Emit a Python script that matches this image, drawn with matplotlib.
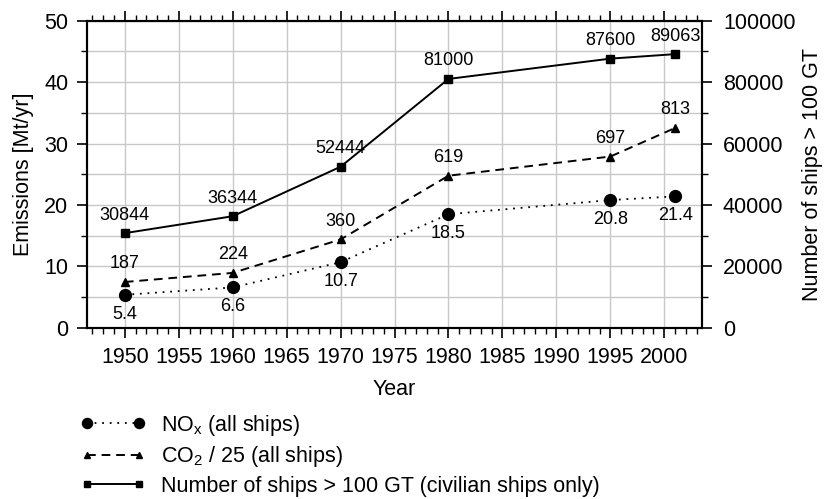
import matplotlib
matplotlib.use("Agg")
import matplotlib.pyplot as plt
from matplotlib.ticker import MultipleLocator

plt.rcParams.update({
    "font.family": ["Liberation Sans", "DejaVu Sans"],
    "mathtext.fontset": "custom",
    "mathtext.rm": "Liberation Sans",
    "mathtext.it": "Liberation Sans:italic",
    "font.size": 15.5,
})

# ── Data ───────────────────────────────────────────────────────────────────────
years = [1950, 1960, 1970, 1980, 1995, 2001]
nox = [5.4, 6.6, 10.7, 18.5, 20.8, 21.4]          # Mt/yr
co2 = [187, 224, 360, 619, 697, 813]               # Mt/yr (plotted / 25)
ships = [30844, 36344, 52444, 81000, 87600, 89063]  # number of ships > 100 GT

nox_labels = ["5.4", "6.6", "10.7", "18.5", "20.8", "21.4"]
co2_labels = [str(v) for v in co2]
ship_labels = [str(v) for v in ships]

GRID = "#c8c8c8"
FS = 15.5
LAB_FS = 13

fig = plt.figure(figsize=(8.24, 4.99), dpi=100)
ax = fig.add_axes([0.1056, 0.3427, 0.7464, 0.6162])
ax2 = ax.twinx()

# grid
ax.xaxis.set_major_locator(MultipleLocator(5))
ax.xaxis.set_minor_locator(MultipleLocator(1))
ax.yaxis.set_major_locator(MultipleLocator(10))
ax.yaxis.set_minor_locator(MultipleLocator(5))
ax.grid(True, which="major", axis="x", color=GRID, linewidth=1.0)
ax.grid(True, which="both", axis="y", color=GRID, linewidth=1.0)
ax.set_axisbelow(True)

# emissions on left axis
l_nox, = ax.plot(years, nox, color="black", linestyle=(0, (1, 3.2)), linewidth=1.3,
                 marker="o", markersize=8.5, zorder=3)
co2_scaled = [v / 25 for v in co2]
l_co2, = ax.plot(years, co2_scaled, color="black", linestyle=(0, (4.5, 3)), linewidth=1.4,
                 marker="^", markersize=5.5, zorder=3)

# ships on right axis
l_sh, = ax2.plot(years, ships, color="black", linestyle="-", linewidth=1.4,
                 marker="s", markersize=5.5, zorder=3)

for x, y, t in zip(years, nox, nox_labels):
    ax.annotate(t, (x, y), xytext=(0, -14), textcoords="offset points",
                ha="center", va="center", fontsize=LAB_FS)
for x, y, t in zip(years, co2_scaled, co2_labels):
    ax.annotate(t, (x, y), xytext=(0, 13), textcoords="offset points",
                ha="center", va="center", fontsize=LAB_FS)
for x, y, t in zip(years, ships, ship_labels):
    ax2.annotate(t, (x, y), xytext=(0, 13), textcoords="offset points",
                 ha="center", va="center", fontsize=LAB_FS)

ax.set_xlim(1946.5, 2003.5)
ax.set_ylim(0, 50)
ax2.set_ylim(0, 100000)
ax2.yaxis.set_major_locator(MultipleLocator(20000))
ax2.yaxis.set_minor_locator(MultipleLocator(10000))

ax.set_xticks([1950, 1955, 1960, 1965, 1970, 1975, 1980, 1985, 1990, 1995, 2000])
ax.xaxis.set_minor_locator(MultipleLocator(1))

for a in (ax, ax2):
    for s in a.spines.values():
        s.set_linewidth(1.5)
    a.tick_params(which="major", direction="out", length=7.5, width=1.2, labelsize=FS)
    a.tick_params(which="minor", direction="out", length=4.5, width=1.0)
ax.tick_params(axis="x", which="both", top=True)
ax.tick_params(axis="x", which="major", pad=6)
ax.tick_params(axis="y", which="major", pad=6)
ax2.tick_params(axis="y", which="major", pad=7.5)

ax.set_xlabel("Year", fontsize=FS, labelpad=8)
ax.set_ylabel("Emissions [Mt/yr]", fontsize=FS, labelpad=7)
ax2.set_ylabel("Number of ships > 100 GT", fontsize=FS, labelpad=5)

fig.legend([l_nox, l_co2, l_sh],
           [r"NO$_\mathrm{x}$ (all ships)", r"CO$_\mathrm{2}$ / 25 (all ships)",
            "Number of ships > 100 GT (civilian ships only)"],
           loc="upper left", bbox_to_anchor=(0.098, 0.173), frameon=False,
           numpoints=2, handlelength=3.0, handletextpad=0.72, labelspacing=0.3,
           fontsize=FS, borderaxespad=0, borderpad=0, markerscale=0.85)

fig.savefig("out.png", dpi=100)
